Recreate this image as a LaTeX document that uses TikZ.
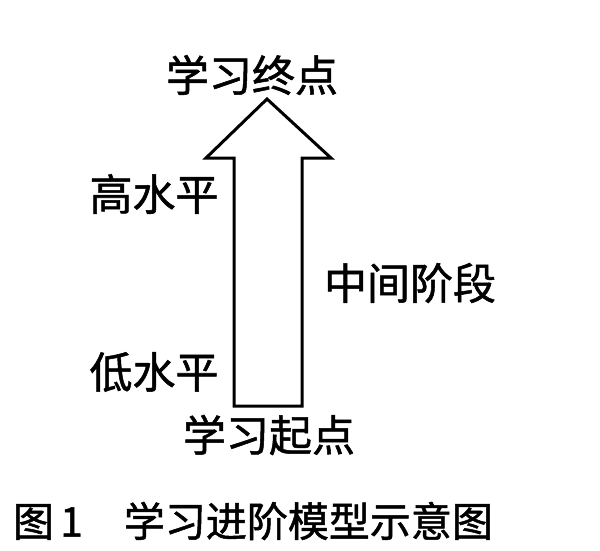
\documentclass[tikz,border=0pt]{standalone}
\usepackage{fontspec}
\newfontfamily\cjk[FakeBold=1.2]{Noto Sans CJK SC}
\begin{document}
\begin{tikzpicture}[x=1pt,y=-1pt,
  lbl/.style={font=\cjk\fontsize{43}{43}\selectfont, inner sep=0pt, anchor=center},
  captext/.style={font=\cjk\fontsize{41}{41}\selectfont, inner sep=0pt, anchor=center},
  arrowshape/.style={draw=black, line width=3pt, line join=miter, fill=white}]
\useasboundingbox (0,0) rectangle (600,550);
\fill[white] (0,0) rectangle (600,550);
\draw[arrowshape] (267,99) -- (331,158) -- (302,158) -- (302,406) -- (234,406) -- (234,158) -- (206,158) -- cycle;
\node[lbl] (end) at (252,75) {学习终点};
\node[lbl] (start) at (269,435) {学习起点};
\node[lbl] (high) at (154,194) {高水平};
\node[lbl] (low) at (154,372) {低水平};
\node[lbl] (mid) at (410,283) {中间阶段};
\node[captext] (caption) at (253,521) {图\hspace{0.15em}1\hspace{1.0em}学习进阶模型示意图};
\end{tikzpicture}
\end{document}
